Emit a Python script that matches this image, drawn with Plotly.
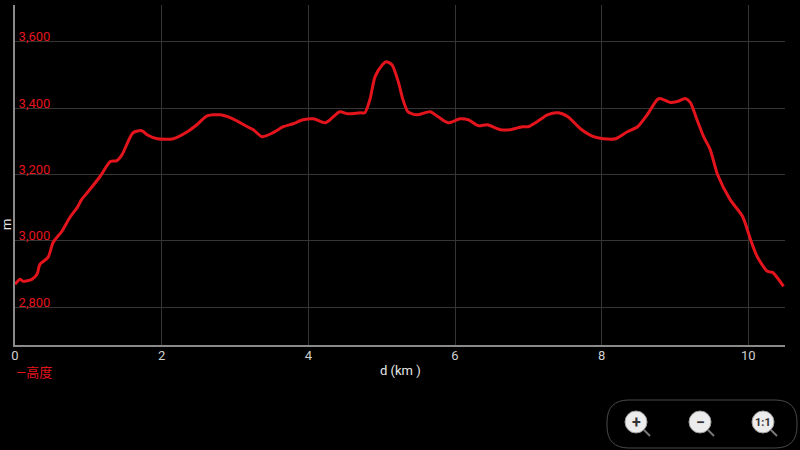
import plotly.graph_objects as go

# distance (km) and elevation (m)
distance_km = [0.00, 0.07, 0.11, 0.23, 0.30, 0.34, 0.45, 0.52, 0.64, 0.75, 0.85, 0.91, 1.00,
               1.16, 1.30, 1.39, 1.46, 1.61, 1.73, 1.80, 1.94, 2.16, 2.35, 2.48, 2.62, 2.80,
               2.97, 3.17, 3.25, 3.37, 3.52, 3.66, 3.79, 3.93, 4.07, 4.23, 4.34, 4.43, 4.54,
               4.71, 4.77, 4.84, 4.91, 5.01, 5.06, 5.14, 5.23, 5.29, 5.36, 5.48, 5.66, 5.77,
               5.91, 6.07, 6.18, 6.32, 6.44, 6.62, 6.75, 6.92, 7.00, 7.12, 7.26, 7.41, 7.54,
               7.71, 7.89, 8.02, 8.19, 8.35, 8.49, 8.62, 8.76, 8.80, 8.94, 9.03, 9.14, 9.21,
               9.30, 9.39, 9.48, 9.58, 9.75, 9.92, 10.03, 10.12, 10.26, 10.33, 10.48]
elevation_m = [2869, 2884, 2878, 2884, 2899, 2929, 2950, 2995, 3029, 3071, 3101, 3125, 3149,
               3194, 3239, 3242, 3260, 3326, 3332, 3320, 3308, 3308, 3329, 3350, 3377, 3380,
               3368, 3344, 3335, 3314, 3326, 3344, 3353, 3365, 3368, 3356, 3374, 3389, 3383,
               3386, 3386, 3426, 3495, 3531, 3540, 3531, 3477, 3426, 3389, 3380, 3389, 3374,
               3356, 3368, 3365, 3347, 3350, 3335, 3335, 3344, 3344, 3359, 3380, 3386, 3374,
               3338, 3314, 3308, 3308, 3329, 3344, 3380, 3426, 3429, 3417, 3420, 3429, 3417,
               3365, 3314, 3275, 3200, 3125, 3074, 3004, 2953, 2908, 2905, 2863]

x_ticks = [0, 2, 4, 6, 8, 10]
y_ticks = [2800, 3000, 3200, 3400, 3600]
y_tick_text = ["2,800", "3,000", "3,200", "3,400", "3,600"]
series_name = "高度"
x_title = "d (km )"
y_title = "m"

RED = "#e3141c"
FONT = "Roboto, 'Noto Sans CJK SC', sans-serif"

# plot area in pixels
L, R, T, B = 15, 785, 5, 345
W, H = 800, 450


def px(x):
    return (x - L) / (R - L)


def py(y):
    return (B - y) / (B - T)


fig = go.Figure()
fig.add_trace(go.Scatter(
    x=distance_km, y=elevation_m, mode="lines", name=series_name,
    line=dict(color=RED, width=3, shape="spline", smoothing=0.7),
    showlegend=False, hoverinfo="x+y",
))

shapes = []
# zoom control panel (rounded rectangle)
x0, x1, y0, y1, r = 607, 797, 400, 448, 22
path = (f"M {px(x0 + r)},{py(y0)} L {px(x1 - r)},{py(y0)} "
        f"Q {px(x1)},{py(y0)} {px(x1)},{py(y0 + r)} L {px(x1)},{py(y1 - r)} "
        f"Q {px(x1)},{py(y1)} {px(x1 - r)},{py(y1)} L {px(x0 + r)},{py(y1)} "
        f"Q {px(x0)},{py(y1)} {px(x0)},{py(y1 - r)} L {px(x0)},{py(y0 + r)} "
        f"Q {px(x0)},{py(y0)} {px(x0 + r)},{py(y0)} Z")
shapes.append(dict(type="path", xref="paper", yref="paper", path=path,
                   line=dict(color="#4a4a4a", width=1), fillcolor="rgba(0,0,0,0)"))

annotations = []
for cx, label in [(636, "+"), (700, "−"), (763, "1:1")]:
    cy, rad = 422, 11
    shapes.append(dict(type="line", xref="paper", yref="paper",
                       x0=px(cx + 8), y0=py(cy + 8), x1=px(cx + 14), y1=py(cy + 14),
                       line=dict(color="#777777", width=2)))
    shapes.append(dict(type="circle", xref="paper", yref="paper",
                       x0=px(cx - rad), x1=px(cx + rad), y0=py(cy + rad), y1=py(cy - rad),
                       line=dict(color="#9a9a9a", width=1), fillcolor="#ececec"))
    annotations.append(dict(xref="paper", yref="paper", x=px(cx), y=py(cy),
                            text=f"<b>{label}</b>", showarrow=False,
                            font=dict(color="#333333", size=16 if label != "1:1" else 11,
                                      family=FONT),
                            xanchor="center", yanchor="middle"))

annotations.append(dict(xref="paper", yref="paper", x=px(400), y=py(370), text=x_title,
                        showarrow=False, font=dict(color="#e6e6e6", size=13, family=FONT),
                        xanchor="center", yanchor="middle"))
annotations.append(dict(xref="paper", yref="paper", x=px(7), y=py(225), text=y_title,
                        showarrow=False, textangle=-90,
                        font=dict(color="#e6e6e6", size=13, family=FONT),
                        xanchor="center", yanchor="middle"))
annotations.append(dict(xref="paper", yref="paper", x=px(14), y=py(372),
                        text="—" + series_name, showarrow=False,
                        font=dict(color=RED, size=13, family=FONT),
                        xanchor="left", yanchor="middle"))

fig.update_layout(
    width=W, height=H,
    margin=dict(l=L, r=W - R, t=T, b=H - B, pad=0),
    paper_bgcolor="black", plot_bgcolor="black",
    font=dict(family=FONT),
    shapes=shapes, annotations=annotations,
    xaxis=dict(range=[0, 10.5], tickvals=x_ticks, ticktext=[str(v) for v in x_ticks],
               showgrid=True, gridcolor="#353535", gridwidth=1,
               showline=True, linecolor="#8a8a8a", linewidth=2,
               zeroline=False, ticks="", ticklabelstandoff=-3,
               tickfont=dict(color="#d0d0d0", size=13, family=FONT)),
    yaxis=dict(range=[2686, 3711], tickvals=y_ticks, ticktext=y_tick_text,
               showgrid=True, gridcolor="#353535", gridwidth=1,
               showline=True, linecolor="#8a8a8a", linewidth=2,
               zeroline=False, ticks="", ticklabelposition="outside",
               ticklabelshift=-5, ticklabelstandoff=-40,
               tickfont=dict(color=RED, size=13, family=FONT)),
)

fig.write_html("out.html",
               config={"displayModeBar": False},
               post_script="document.body.style.margin='0';"
                           "document.body.style.background='black';"
                           "document.body.style.overflow='hidden';")
